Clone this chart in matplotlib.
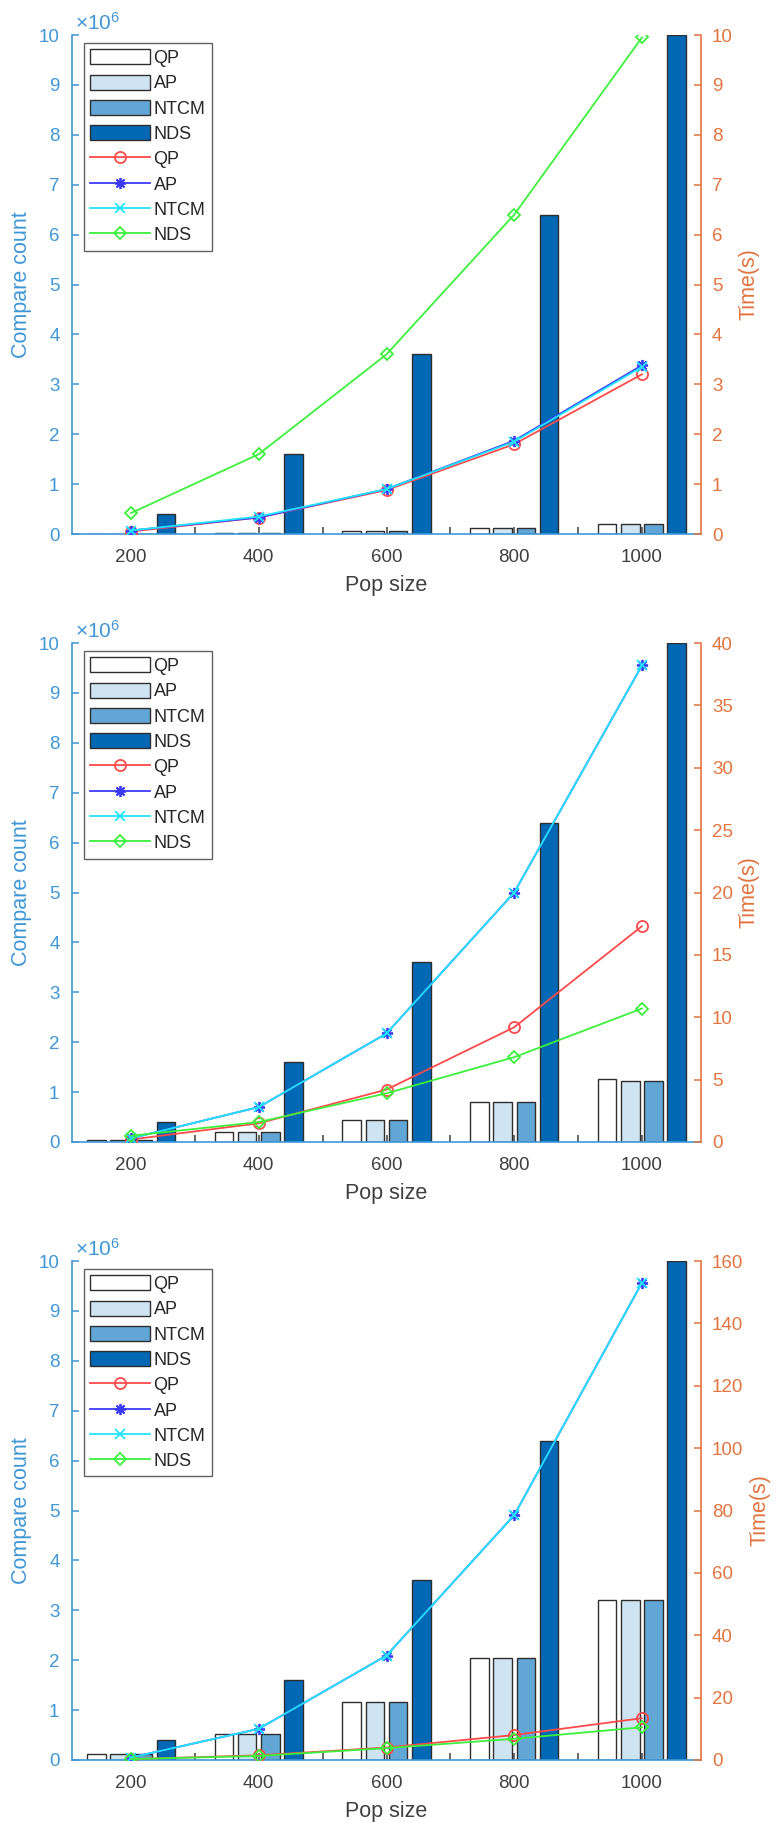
import matplotlib
matplotlib.use("Agg")
import matplotlib.pyplot as plt
import numpy as np
from matplotlib.patches import Patch
from matplotlib.lines import Line2D

plt.rcParams['font.family'] = ['Liberation Sans', 'DejaVu Sans']
plt.rcParams['mathtext.fontset'] = 'custom'
plt.rcParams['mathtext.rm'] = 'Liberation Sans'
plt.rcParams['mathtext.it'] = 'Liberation Sans'

# population sizes (x axis)
pop = [200, 400, 600, 800, 1000]

# compare counts, in units of 1e6
cmp1_qp = [0.01, 0.03, 0.07, 0.12, 0.20]
cmp1_ap = [0.01, 0.03, 0.07, 0.12, 0.20]
cmp1_ntcm = [0.01, 0.03, 0.07, 0.12, 0.20]
cmp2_qp = [0.05, 0.20, 0.45, 0.80, 1.27]
cmp2_ap = [0.05, 0.20, 0.45, 0.80, 1.23]
cmp2_ntcm = [0.05, 0.20, 0.45, 0.80, 1.23]
cmp3_qp = [0.12, 0.52, 1.16, 2.05, 3.20]
cmp3_ap = [0.12, 0.52, 1.16, 2.05, 3.20]
cmp3_ntcm = [0.12, 0.52, 1.16, 2.05, 3.20]
cmp_nds = [0.4, 1.6, 3.6, 6.4, 10.0]

# run times (s)
time1_qp = [0.05, 0.33, 0.88, 1.80, 3.20]
time1_ap = [0.07, 0.33, 0.90, 1.87, 3.38]
time1_ntcm = [0.07, 0.35, 0.90, 1.85, 3.35]
time1_nds = [0.42, 1.60, 3.60, 6.40, 9.95]
time2_qp = [0.2, 1.5, 4.2, 9.2, 17.3]
time2_ap = [0.3, 2.8, 8.7, 20.0, 38.2]
time2_ntcm = [0.3, 2.8, 8.7, 20.0, 38.2]
time2_nds = [0.5, 1.6, 3.9, 6.8, 10.7]
time3_qp = [0.3, 1.5, 4.0, 8.0, 13.4]
time3_ap = [0.8, 10.0, 33.5, 78.5, 153.0]
time3_ntcm = [0.8, 10.0, 33.5, 78.5, 153.0]
time3_nds = [0.3, 1.3, 3.8, 6.8, 10.5]

time_max = [10, 40, 160]
time_ticks = [np.arange(0, 11, 1), np.arange(0, 41, 5), np.arange(0, 161, 20)]
names = ["QP", "AP", "NTCM", "NDS"]

BLUE_AX = "#3f97d6"
ORANGE_AX = "#e2743f"
GREY_TXT = "#404040"
BAR_COLS = ["#ffffff", "#cfe4f2", "#62a6d6", "#0068b4"]
BAR_EDGE = "#2e2e2e"
# colour, marker, marker face, marker size
LINE_STY = [("#ff4a4a", "o", "none", 8), ("#3a3aff", (8, 2, 0), None, 8),
            ("#22e4ff", "x", None, 6.5), ("#3cf03c", "D", "none", 6.5)]

W, H = 776, 1823
LEFT, RIGHT = 72, 701
TOPS = [35, 643, 1261]
AX_H = 499


def panel(fig, top, counts, times, tmax, tticks):
    ax = fig.add_axes([LEFT / W, 1 - (top + AX_H) / H,
                       (RIGHT - LEFT) / W, AX_H / H])
    ax2 = ax.twinx()

    x = np.array(pop, dtype=float)
    step = 200 * (4 / 5.5) / 4
    offs = (np.arange(4) - 1.5) * step
    for i, c in enumerate(counts):
        ax.bar(x + offs[i], np.array(c) * 1e6, width=step * 0.8,
               color=BAR_COLS[i], edgecolor=BAR_EDGE, linewidth=1.0,
               zorder=2)

    for (col, mk, mfc, ms), t in zip(LINE_STY, times):
        ax2.plot(pop, t, color=col, marker=mk, markersize=ms,
                 markerfacecolor=mfc if mfc else col,
                 markeredgewidth=1.3, linewidth=1.3)

    ax.set_xlim(107.5, 1092.5)
    ax.set_ylim(0, 1e7)
    ax2.set_ylim(0, tmax)

    ax.set_xticks(pop)
    ax.set_xticklabels([str(p) for p in pop])
    ax.set_xticks([300, 500, 700, 900], minor=True)
    ax.set_yticks(np.arange(0, 11) * 1e6)
    ax.set_yticklabels([str(i) for i in range(11)])
    ax2.set_yticks(tticks)

    for s in ("top", "right"):
        ax.spines[s].set_visible(False)
    for s in ("top", "left", "bottom"):
        ax2.spines[s].set_visible(False)
    ax.spines["left"].set_color(BLUE_AX)
    ax.spines["bottom"].set_color(BLUE_AX)
    ax2.spines["right"].set_color(ORANGE_AX)
    for sp in list(ax.spines.values()) + list(ax2.spines.values()):
        sp.set_linewidth(1.2)

    ax.tick_params(axis="y", direction="in", length=5, width=1.1,
                   colors=BLUE_AX, labelsize=13.5, pad=9)
    ax.tick_params(axis="x", which="both", direction="in", length=5,
                   width=1.1, color=GREY_TXT, labelcolor=GREY_TXT,
                   labelsize=13.5, pad=11)
    ax2.tick_params(axis="y", direction="in", length=5, width=1.1,
                    colors=ORANGE_AX, labelsize=13.5, pad=8)

    ax.set_xlabel("Pop size", fontsize=15.5, color=GREY_TXT, labelpad=6)
    ax.set_ylabel("Compare count", fontsize=15.5, color=BLUE_AX, labelpad=5)
    ax2.set_ylabel("Time(s)", fontsize=15.5, color=ORANGE_AX, labelpad=4)
    ax.text(0.004, 1.003, r"$\times10^{6}$", transform=ax.transAxes,
            ha="left", va="bottom", fontsize=15, color=BLUE_AX)

    handles = [Patch(facecolor=BAR_COLS[i], edgecolor=BAR_EDGE,
                     linewidth=1.0, label=names[i]) for i in range(4)]
    for (col, mk, mfc, ms), n in zip(LINE_STY, names):
        handles.append(Line2D([], [], color=col, marker=mk, markersize=ms,
                              markerfacecolor=mfc if mfc else col,
                              markeredgewidth=1.3, linewidth=1.3, label=n))
    leg = ax2.legend(handles=handles, loc="upper left",
                     bbox_to_anchor=(12 / (RIGHT - LEFT), 1 - 8 / AX_H),
                     borderaxespad=0, fontsize=13, frameon=True,
                     fancybox=False, handlelength=3.3, handleheight=0.9,
                     handletextpad=0.2, labelspacing=0.42, borderpad=0.35)
    leg.get_frame().set_edgecolor("#3a3a3a")
    leg.get_frame().set_linewidth(1.0)
    for txt in leg.get_texts():
        txt.set_color("#262626")


def main():
    fig = plt.figure(figsize=(W / 100, H / 100), dpi=100, facecolor="white")
    panel(fig, TOPS[0], [cmp1_qp, cmp1_ap, cmp1_ntcm, cmp_nds],
          [time1_qp, time1_ap, time1_ntcm, time1_nds], time_max[0], time_ticks[0])
    panel(fig, TOPS[1], [cmp2_qp, cmp2_ap, cmp2_ntcm, cmp_nds],
          [time2_qp, time2_ap, time2_ntcm, time2_nds], time_max[1], time_ticks[1])
    panel(fig, TOPS[2], [cmp3_qp, cmp3_ap, cmp3_ntcm, cmp_nds],
          [time3_qp, time3_ap, time3_ntcm, time3_nds], time_max[2], time_ticks[2])
    fig.savefig("out.png", dpi=100, facecolor="white")


if __name__ == "__main__":
    main()
